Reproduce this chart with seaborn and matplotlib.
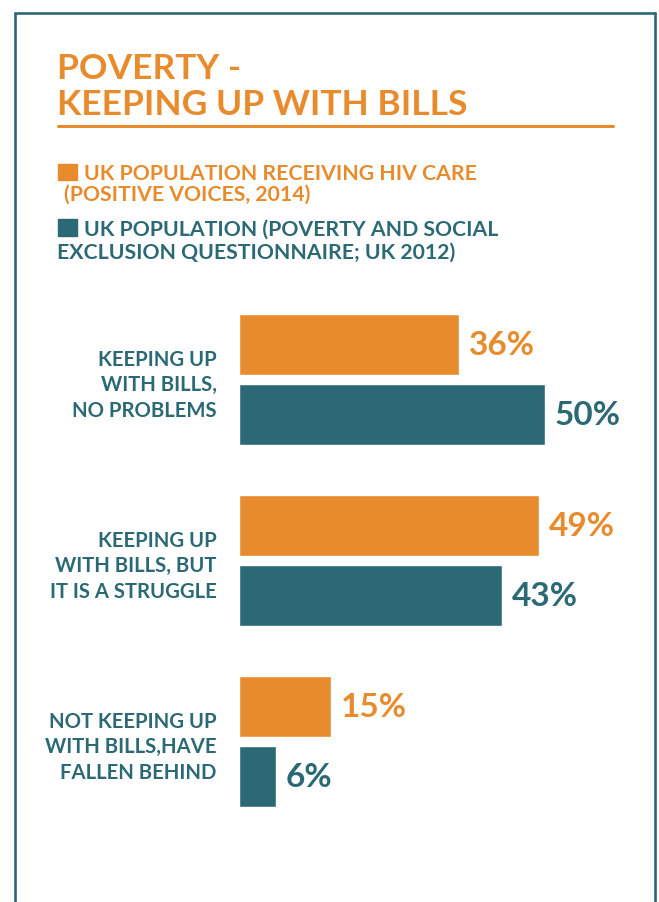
import pandas as pd
import matplotlib.pyplot as plt
import seaborn as sns
from matplotlib.patches import Rectangle
from matplotlib.lines import Line2D

# data
categories = [
    "KEEPING UP\nWITH BILLS,\nNO PROBLEMS",
    "KEEPING UP\nWITH BILLS, BUT\nIT IS A STRUGGLE",
    "NOT KEEPING UP\nWITH BILLS,HAVE\nFALLEN BEHIND",
]
hiv_care = [36, 49, 15]
uk_population = [50, 43, 6]
series = ["UK population receiving HIV care", "UK population"]

ORANGE = "#E88B2C"
TEAL = "#2B6975"

df = pd.DataFrame({
    "category": categories * 2,
    "pct": hiv_care + uk_population,
    "group": [series[0]] * 3 + [series[1]] * 3,
})

sns.set_theme(style="white")
plt.rcParams["font.family"] = ["Lato", "DejaVu Sans"]

W, H = 659, 903
fig = plt.figure(figsize=(W / 100, H / 100), dpi=100)
fig.patch.set_facecolor("white")

# frame (open at the bottom)
for xs, ys in [([15, 15], [14, H + 5]), ([655, 655], [14, H + 5]), ([15, 655], [14, 14])]:
    fig.add_artist(Line2D([x / W for x in xs], [1 - y / H for y in ys],
                          color=TEAL, lw=1.9, transform=fig.transFigure))

# title
fig.text(57 / W, 1 - 79 / H, "POVERTY -", color=ORANGE, fontsize=25.5, fontweight="bold", va="baseline")
fig.text(57 / W, 1 - 115 / H, "KEEPING UP WITH BILLS", color=ORANGE, fontsize=25.5, fontweight="bold", va="baseline")
fig.add_artist(Line2D([58 / W, 613 / W], [1 - 127 / H] * 2, color=ORANGE, lw=2.2, transform=fig.transFigure))

# legend
fig.add_artist(Rectangle((58 / W, 1 - 181 / H), 19 / W, 16 / H, color=ORANGE, transform=fig.transFigure))
fig.text(84 / W, 1 - 180 / H, "UK POPULATION RECEIVING HIV CARE", color=ORANGE, fontsize=15.3, fontweight="bold", va="baseline")
fig.text(64 / W, 1 - 201 / H, "(POSITIVE VOICES, 2014)", color=ORANGE, fontsize=15.3, fontweight="bold", va="baseline")
fig.add_artist(Rectangle((58 / W, 1 - 237 / H), 19 / W, 17 / H, color=TEAL, transform=fig.transFigure))
fig.text(84 / W, 1 - 236 / H, "UK POPULATION (POVERTY AND SOCIAL", color=TEAL, fontsize=15.3, fontweight="bold", va="baseline")
fig.text(57 / W, 1 - 259 / H, "EXCLUSION QUESTIONNAIRE; UK 2012)", color=TEAL, fontsize=15.3, fontweight="bold", va="baseline")

# bars
ax = fig.add_axes([239 / W, 70 / H, 367 / W, 543 / H])
sns.barplot(data=df, y="category", x="pct", hue="group", orient="h",
            palette=[ORANGE, TEAL], saturation=1, width=0.78, gap=0.14,
            legend=False, ax=ax)
ax.set_xlim(0, 60)
ax.set_ylim(2.5, -0.5)
for cont, col in zip(ax.containers, [ORANGE, TEAL]):
    ax.bar_label(cont, fmt="%d%%", padding=7, color=col, fontsize=24, fontweight="bold")

ax.set_xlabel("")
ax.set_ylabel("")
ax.set_xticks([])
ax.tick_params(axis="y", length=0, pad=16)
for lbl in ax.get_yticklabels():
    lbl.set_color(TEAL)
    lbl.set_fontweight("bold")
    lbl.set_fontsize(14.6)
    lbl.set_linespacing(1.35)
sns.despine(ax=ax, left=True, bottom=True)

plt.savefig("out.png", dpi=100)
